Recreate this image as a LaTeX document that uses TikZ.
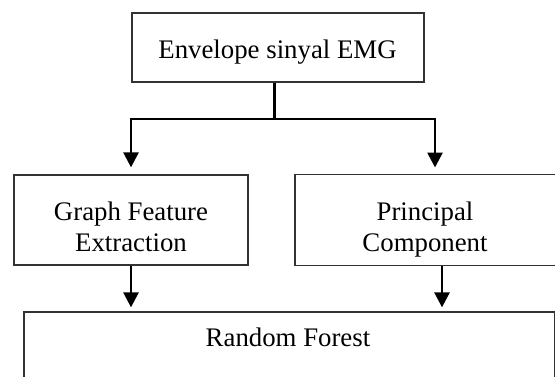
\documentclass[tikz,border=0pt]{standalone}
\usepackage{fontspec}
\setmainfont{Liberation Serif}
\usetikzlibrary{arrows.meta}
\begin{document}
\begin{tikzpicture}[x=0.5pt, y=-0.5pt,
  box/.style={draw=black!80, line width=0.65pt, rectangle, inner sep=0pt},
  txt/.style={inner sep=0pt, font=\fontsize{13.4pt}{15.35pt}\selectfont, align=center},
  conn/.style={draw=black, line width=1.35pt},
  arr/.style={conn, -{Triangle[length=7.5pt, width=7.5pt]}}]
  \useasboundingbox (0,0) rectangle (555,376);

  % boxes
  \node[box, minimum width=146pt, minimum height=34.5pt] (top) at (278,47.5) {};
  \node[box, minimum width=117pt, minimum height=45pt] (gfe) at (131,220) {};
  \node[box, minimum width=135pt, minimum height=45.5pt] (pc) at (430,220) {};
  \node[box, minimum width=265.15pt, minimum height=34pt] (rf) at (289.15,346) {};

  % box texts
  \node[txt, anchor=base] (topT) at (277.5,58.3) {Envelope sinyal EMG};
  \node[txt, anchor=north] (gfeT) at (131,201.3) {Graph Feature\\Extraction};
  \node[txt, anchor=north] (pcT) at (425,201.3) {Principal\\Component};
  \node[txt, anchor=base] (rfT) at (288,346.7) {Random Forest};

  % branching connector from the top box
  \coordinate (j) at (274.5,119);
  \coordinate (rdrop) at (435,174.5);
  \coordinate (r2) at (442,290);
  \draw[conn] (top.south -| j) -- (j);
  \draw[arr, shorten >=3.5pt] (j) -| (gfe.north);
  \draw[arr, shorten >=3.5pt] (j) -| (rdrop);

  % arrows into the random forest box
  \draw[arr, shorten >=2pt] (gfe.south) -- (gfe.south |- rf.north);
  \draw[arr, shorten >=2pt] (pc.south -| r2) -- (r2 |- rf.north);
\end{tikzpicture}
\end{document}
